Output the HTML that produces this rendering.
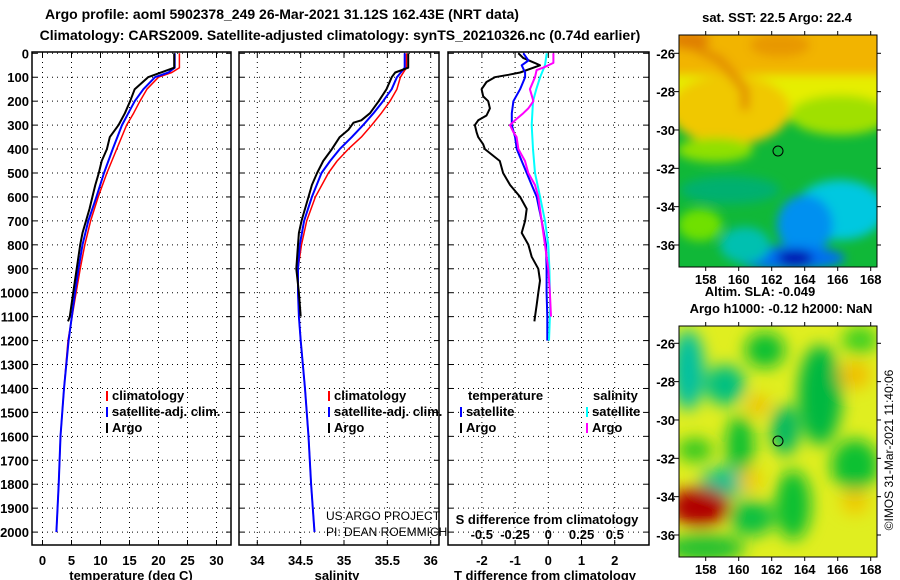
<!DOCTYPE html>
<html><head><meta charset="utf-8"><style>
body{margin:0;background:#fff;width:900px;height:580px;overflow:hidden}
svg{display:block;font-family:"Liberation Sans",sans-serif}
.b{font-weight:bold}
</style></head><body>
<svg id="c" width="900" height="580" viewBox="0 0 900 580">
<defs>
<filter id="bl" x="-20%" y="-20%" width="140%" height="140%"><feGaussianBlur stdDeviation="8"/></filter>
<filter id="bl2" x="-20%" y="-20%" width="140%" height="140%"><feGaussianBlur stdDeviation="5"/></filter>
<clipPath id="m1"><rect x="679" y="35" width="198" height="232"/></clipPath>
<clipPath id="m2"><rect x="679" y="326" width="198" height="231"/></clipPath>
</defs>
<text class="b" x="282" y="19" font-size="14" text-anchor="middle">Argo profile: aoml 5902378_249 26-Mar-2021 31.12S 162.43E (NRT data)</text>
<text class="b" x="340" y="40" font-size="14" text-anchor="middle">Climatology: CARS2009. Satellite-adjusted climatology: synTS_20210326.nc (0.74d earlier)</text>

<g clip-path="url(#m1)">
<rect x="679" y="35" width="198" height="232" fill="#10b838"/>
<g filter="url(#bl2)">
<rect x="660" y="20" width="240" height="70" fill="#f2b400"/>
<rect x="660" y="75" width="240" height="45" fill="#e6ee00"/>
<ellipse cx="730" cy="110" rx="60" ry="35" fill="#f0c800"/>
<ellipse cx="840" cy="115" rx="50" ry="20" fill="#a0e000"/>
<ellipse cx="715" cy="150" rx="38" ry="12" fill="#90e000"/>
<path d="M680 40 L720 60 L745 90 L745 110" stroke="#e08800" stroke-width="8" fill="none"/>
<ellipse cx="690" cy="40" rx="20" ry="10" fill="#e08000"/>
<ellipse cx="780" cy="45" rx="30" ry="12" fill="#e89800"/>
<ellipse cx="840" cy="210" rx="45" ry="30" fill="#00c8e0"/>
<ellipse cx="805" cy="225" rx="28" ry="30" fill="#0090f0"/>
<ellipse cx="790" cy="258" rx="55" ry="12" fill="#0070f0"/>
<ellipse cx="795" cy="258" rx="18" ry="8" fill="#0010b0"/>
<ellipse cx="700" cy="225" rx="22" ry="16" fill="#70e000"/>
<ellipse cx="745" cy="245" rx="25" ry="18" fill="#00c0b0"/>
<ellipse cx="730" cy="190" rx="50" ry="14" fill="#00b070"/>
</g>
<circle cx="778" cy="151" r="5" fill="none" stroke="#000"/>
</g>
<rect x="679" y="35" width="198" height="232" fill="none" stroke="#000"/>

<g clip-path="url(#m2)">
<rect x="679" y="326" width="198" height="231" fill="#e0ee20"/>
<g filter="url(#bl)">
<ellipse cx="688" cy="370" rx="16" ry="40" fill="#00c0a0"/>
<ellipse cx="725" cy="385" rx="20" ry="20" fill="#00c080"/>
<ellipse cx="765" cy="350" rx="20" ry="18" fill="#10c030"/>
<ellipse cx="820" cy="395" rx="22" ry="50" fill="#00b840"/>
<ellipse cx="785" cy="430" rx="14" ry="25" fill="#00b860"/>
<ellipse cx="740" cy="445" rx="14" ry="30" fill="#10c030"/>
<ellipse cx="728" cy="482" rx="28" ry="14" fill="#00c090"/>
<ellipse cx="695" cy="450" rx="18" ry="12" fill="#30c820"/>
<ellipse cx="793" cy="505" rx="18" ry="35" fill="#10c030"/>
<ellipse cx="855" cy="465" rx="24" ry="26" fill="#10c030"/>
<ellipse cx="752" cy="518" rx="22" ry="18" fill="#10c040"/>
<ellipse cx="705" cy="548" rx="40" ry="14" fill="#20c030"/>
<ellipse cx="860" cy="340" rx="18" ry="14" fill="#40d020"/>
<ellipse cx="855" cy="375" rx="16" ry="14" fill="#f0c000"/>
<ellipse cx="758" cy="405" rx="12" ry="10" fill="#f0c000"/>
<ellipse cx="750" cy="480" rx="12" ry="12" fill="#f0c800"/>
<ellipse cx="700" cy="507" rx="30" ry="20" fill="#b00000"/>
<ellipse cx="855" cy="502" rx="14" ry="12" fill="#f0c800"/>
</g>
<circle cx="778" cy="441" r="5" fill="none" stroke="#000"/>
</g>
<rect x="679" y="326" width="198" height="231" fill="none" stroke="#000"/>

<text class="b" x="777" y="22" font-size="13" text-anchor="middle">sat. SST: 22.5 Argo: 22.4</text>
<text class="b" x="760" y="296" font-size="13" text-anchor="middle">Altim. SLA: -0.049</text>
<text class="b" x="781" y="313" font-size="13" text-anchor="middle">Argo h1000: -0.12 h2000: NaN</text>
<text x="893" y="450" font-size="12" text-anchor="middle" transform="rotate(-90 893 450)">©IMOS 31-Mar-2021 11:40:06</text>
<g id="ax"></g>
</svg>
<script>
const depthTicks=[0,100,200,300,400,500,600,700,800,900,1000,1100,1200,1300,1400,1500,1600,1700,1800,1900,2000];
const tTicks=[0,5,10,15,20,25,30];
const sTicks=[34,34.5,35,35.5,36];
const sTickLabels=['34','34.5','35','35.5','36'];
const dTicks=[-2,-1,0,1,2];
const dsTicks=[-0.5,-0.25,0,0.25,0.5];
const dsTickLabels=['-0.5','-0.25','0','0.25','0.5'];
const latTicks=[-26,-28,-30,-32,-34,-36];
const lonTicks=[158,160,162,164,166,168];
const argoTDepth=[0,60,100,150,200,250,300,350,400,450,500,550,600,650,700,750,800,900,1000,1100,1120];
const argoT=[22.7,22.7,18.2,15.9,15.1,14.2,13.1,11.6,11.1,10.2,9.7,9.1,8.6,8.1,7.5,6.9,6.5,5.9,5.3,4.7,4.4];
const climDepth=[0,60,80,100,150,200,250,300,400,500,600,700,800,900,1000,1200,1400,1600,1800,2000];
const climT=[23.6,23.6,22.3,20.0,18.0,16.8,15.7,14.5,12.8,11.1,9.6,8.3,7.3,6.5,5.8,4.4,3.7,3.1,2.8,2.4];
const satT=[22.8,22.8,21.7,19.4,17.4,15.9,14.8,13.7,12.1,10.6,9.3,7.9,6.9,6.2,5.6,4.5,3.7,3.1,2.8,2.4];
const argoSDepth=[0,60,80,100,150,200,250,280,290,320,350,400,450,500,550,600,700,750,800,900,1000,1100];
const argoS=[35.74,35.74,35.59,35.55,35.49,35.40,35.30,35.20,35.11,35.05,34.95,34.86,34.76,34.69,34.63,34.59,34.51,34.48,34.47,34.45,34.48,34.50];
const climSDepth=[0,60,100,150,200,250,300,350,400,450,500,600,700,800,900,1000,1100,1200,1400,1600,1800,2000];
const climS=[35.72,35.72,35.65,35.61,35.53,35.43,35.32,35.20,35.05,34.92,34.82,34.67,34.57,34.51,34.47,34.47,34.48,34.50,34.55,34.59,34.62,34.66];
const satS=[35.70,35.70,35.61,35.55,35.45,35.34,35.22,35.09,34.95,34.84,34.74,34.63,34.54,34.49,34.47,34.47,34.48,34.50,34.55,34.59,34.62,34.66];
const dTArgoDepth=[0,20,40,50,80,90,100,120,150,180,200,230,260,280,300,330,350,380,400,450,500,550,600,650,700,750,800,850,900,950,1000,1050,1100,1120];
const dTArgo=[-0.90,-0.75,-0.41,-0.25,-0.85,-1.20,-1.61,-1.86,-2.01,-1.96,-1.81,-1.76,-1.86,-2.11,-2.21,-2.16,-2.11,-1.96,-1.91,-1.46,-1.36,-1.15,-0.85,-0.65,-0.70,-0.80,-0.60,-0.50,-0.30,-0.25,-0.30,-0.35,-0.40,-0.42];
const dTSatDepth=[0,30,50,80,100,150,200,250,300,350,400,450,500,550,600,700,800,900,1000,1100,1200];
const dTSat=[-0.75,-0.60,-0.80,-0.70,-0.70,-0.85,-1.05,-1.10,-1.10,-1.00,-0.95,-0.80,-0.65,-0.50,-0.35,-0.20,-0.07,-0.05,-0.05,-0.03,-0.03];
const dSSatDepth=[0,50,100,150,200,300,400,500,600,700,800,900,1000,1100,1200];
const dSSat=[-0.012,-0.025,-0.062,-0.09,-0.115,-0.125,-0.115,-0.10,-0.062,-0.025,0,0.008,0.012,0.012,0.005];
const dSArgoDepth=[0,40,60,70,100,150,200,230,250,280,300,330,350,400,450,500,550,600,700,800,900,1000,1100];
const dSArgo=[0.038,0.038,-0.038,-0.088,-0.10,-0.138,-0.112,-0.15,-0.188,-0.25,-0.288,-0.262,-0.238,-0.225,-0.175,-0.15,-0.10,-0.075,-0.05,-0.025,0,0.012,0.02];

const NS='http://www.w3.org/2000/svg';
const axg=document.getElementById('ax');
function el(t,a,p){const e=document.createElementNS(NS,t);for(const k in a)e.setAttribute(k,a[k]);(p||axg).appendChild(e);return e;}
const yD=d=>53.3+d*0.2394;
const xT=t=>42.5+t*5.8;
const xS=s=>257.3+(s-34)*86.7;
const xDT=v=>548.3+v*33.2;
const xDS=v=>548.3+v*133;
const panels=[[32,231],[239,439],[448,649]];
const ptop=52,pbot=545;

panels.forEach((p,i)=>{
  const g=el('g',{});
  
  
  const vx=i==0?tTicks.map(xT):i==1?sTicks.map(xS):dTicks.map(xDT);
  vx.forEach(x=>{el('line',{x1:x,x2:x,y1:ptop,y2:pbot,stroke:'#000','stroke-dasharray':'1 4'},g);
    el('line',{x1:x,x2:x,y1:ptop,y2:ptop+5,stroke:'#000'},g);el('line',{x1:x,x2:x,y1:pbot,y2:pbot-5,stroke:'#000'},g);});
  depthTicks.forEach(d=>{el('line',{x1:p[0],x2:p[1],y1:yD(d),y2:yD(d),stroke:'#000','stroke-dasharray':'1 4'},g);
    el('line',{x1:p[0],x2:p[0]+5,y1:yD(d),y2:yD(d),stroke:'#000'},g);el('line',{x1:p[1],x2:p[1]-5,y1:yD(d),y2:yD(d),stroke:'#000'},g);});
  el('rect',{x:p[0],y:ptop,width:p[1]-p[0],height:pbot-ptop,fill:'none',stroke:'#000','stroke-width':1.5},g);
});
depthTicks.forEach(d=>{const t=el('text',{x:29,y:yD(d)+5,'font-size':13,'font-weight':'bold','text-anchor':'end'});t.textContent=d;
  
  });
function xl(x,s,y){const t=el('text',{x:x,y:y||565,'font-size':13,'font-weight':'bold','text-anchor':'middle'});t.textContent=s;
  
  return t;}
tTicks.forEach(v=>xl(xT(v),v));
sTicks.forEach((v,i)=>xl(xS(v),sTickLabels[i]));
dTicks.forEach(v=>xl(xDT(v),v));
dsTicks.forEach((v,i)=>xl(xDS(v),dsTickLabels[i],539));
function title(x,s,n){const t=el('text',{x:x,y:580,'font-size':13,'font-weight':'bold','text-anchor':'middle'});t.textContent=s;
  
  }
title(131,'temperature (deg C)','temperature-axis-title');
title(337,'salinity','salinity-axis-title');
title(545,'T difference from climatology','t-diff-axis-title');
{const t=el('text',{x:547,y:524,'font-size':13,'font-weight':'bold','text-anchor':'middle'});t.textContent='S difference from climatology';

}

function line(xs,ds,fx,col,w,name){
  const pts=xs.map((v,i)=>fx(v).toFixed(1)+','+yD(ds[i]).toFixed(1)).join(' ');
  const pl=el('polyline',{points:pts,fill:'none',stroke:col,'stroke-width':w,'stroke-linejoin':'round'});
  
  
}
line(climT,climDepth,xT,'#f00',1.5,'temperature-climatology-line');
line(satT,climDepth,xT,'#00f',2,'temperature-satellite-line');
line(argoT,argoTDepth,xT,'#000',2,'temperature-argo-line');
line(climS,climSDepth,xS,'#f00',1.5,'salinity-climatology-line');
line(satS,climSDepth,xS,'#00f',2,'salinity-satellite-line');
line(argoS,argoSDepth,xS,'#000',2,'salinity-argo-line');
line(dTArgo,dTArgoDepth,xDT,'#000',2,'t-diff-argo-line');
line(dTSat,dTSatDepth,xDT,'#00f',2,'t-diff-satellite-line');
line(dSSat,dSSatDepth,xDS,'#0ff',2,'s-diff-satellite-line');
line(dSArgo,dSArgoDepth,xDS,'#f0f',2,'s-diff-argo-line');

function leg(x,y,col,s,name){el('line',{x1:x,x2:x,y1:y-9,y2:y+1,stroke:col,'stroke-width':2});
  const t=el('text',{x:x+5,y:y,'font-size':13,'font-weight':'bold'});t.textContent=s;
  
  }
leg(107,400,'#f00','climatology','legend-t-climatology');
leg(107,416,'#00f','satellite-adj. clim.','legend-t-satellite');
leg(107,432,'#000','Argo','legend-t-argo');
leg(329,400,'#f00','climatology','legend-s-climatology');
leg(329,416,'#00f','satellite-adj. clim.','legend-s-satellite');
leg(329,432,'#000','Argo','legend-s-argo');
leg(461,416,'#00f','satellite','legend-dt-satellite');
leg(461,432,'#000','Argo','legend-dt-argo');
leg(587,416,'#0ff','satellite','legend-ds-satellite');
leg(587,432,'#f0f','Argo','legend-ds-argo');
{let t=el('text',{x:468,y:400,'font-size':13,'font-weight':'bold'});t.textContent='temperature';


t=el('text',{x:593,y:400,'font-size':13,'font-weight':'bold'});t.textContent='salinity';


t=el('text',{x:326,y:520,'font-size':12});t.textContent='US ARGO PROJECT';


t=el('text',{x:326,y:536,'font-size':12});t.textContent='PI: DEAN ROEMMICH';

}

function mapAxes(y0,y1,yLat26,yLat36,name){
  const yl=l=>yLat26+(-26-l)/10*(yLat36-yLat26);
  const xl2=o=>705.7+(o-158)*16.5;
  latTicks.forEach(l=>{el('line',{x1:674,x2:679,y1:yl(l),y2:yl(l),stroke:'#000'});el('line',{x1:877,x2:881,y1:yl(l),y2:yl(l),stroke:'#000'});
    const t=el('text',{x:675,y:yl(l)+5,'font-size':13,'font-weight':'bold','text-anchor':'end'});t.textContent=l;
    
    });
  lonTicks.forEach(o=>{el('line',{x1:xl2(o),x2:xl2(o),y1:y0-4,y2:y0,stroke:'#000'});el('line',{x1:xl2(o),x2:xl2(o),y1:y1,y2:y1+4,stroke:'#000'});
    const t=el('text',{x:xl2(o),y:y1+17,'font-size':13,'font-weight':'bold','text-anchor':'middle'});t.textContent=o;
    
    });
}
mapAxes(35,267,53.3,245,'sst-map');
mapAxes(326,557,343.3,535,'sla-map');
</script>
</body></html>
